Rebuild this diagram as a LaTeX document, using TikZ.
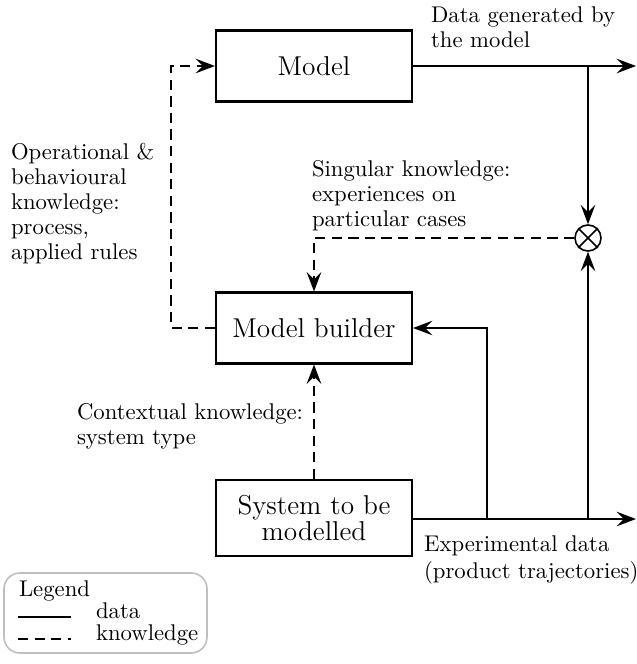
\documentclass[tikz,border=0pt]{standalone}
\usetikzlibrary{arrows.meta}
\begin{document}
\begin{tikzpicture}[x=0.44pt,y=-0.44pt,
  line width=0.9pt,
  >={Stealth[length=8.5pt,width=6.4pt,inset=3.2pt]},
  blk/.style={draw,minimum width=196*0.44pt,minimum height=71*0.44pt,inner sep=0pt,font=\fontsize{12}{11.5}\selectfont,align=center},
  lbl/.style={inner sep=0pt,align=left,font=\fontsize{10}{11}\selectfont},
  know/.style={dash pattern=on 4.5pt off 2.8pt},
  data/.style={}]
\useasboundingbox (0,0) rectangle (636,664);
\node[blk] (model) at (314,66) {Model};
\node[blk] (builder) at (314,328) {Model builder};
\node[blk,minimum height=76*0.44pt] (system) at (314,518) {System to be\\modelled};
\node[draw,circle,minimum size=26*0.44pt,inner sep=0pt,line width=0.7pt] (mix) at (588,238) {};
\draw[line width=0.7pt] (mix.north west) -- (mix.south east) (mix.north east) -- (mix.south west);
\coordinate (outA) at (636,66);
\coordinate (outB) at (636,519);
\coordinate (jA) at (588,66);
\coordinate (jB) at (588,519);
\coordinate (jC) at (487,519);
% data lines
\draw[->] (model.east) -- (outA);
\draw[->] (jA) -- (mix.north);
\draw[->] (system.east |- jB) -- (outB);
\draw[->] (jB) -- (mix.south);
\draw[->] (jC) |- (builder.east);
% knowledge lines
\draw[->,know] (mix.west) -| (builder.north);
\draw[->,know] (system.north) -- (builder.south);
\draw[->,know] (builder.west) -- (171,328) |- (model.west);
% labels
\node[lbl,anchor=north west] (l1) at (430,6) {Data generated by\\the model};
\node[lbl,anchor=north west] (l2) at (10,142) {Operational \&\\behavioural\\knowledge:\\process,\\applied rules};
\node[lbl,anchor=north west] (l3) at (311,159) {Singular knowledge:\\experiences on\\particular cases};
\node[lbl,anchor=north west] (l4) at (76,402) {Contextual knowledge:\\system type};
\node[lbl,anchor=north west,font=\fontsize{10}{11.6}\selectfont] (l5) at (423,535) {Experimental data\\(product trajectories)};
% legend
\draw[gray!50,line width=0.7pt,rounded corners=7pt] (4,573) rectangle (207,653);
\node[lbl,anchor=north west] (lg) at (18,580) {Legend};
\coordinate (s1) at (18,617); \coordinate (s2) at (71,617);
\coordinate (d1) at (18,639); \coordinate (d2) at (71,639);
\draw (s1) -- (s2);
\draw[know] (d1) -- (d2);
\node[lbl,anchor=base west] (ld) at (95,618) {data};
\node[lbl,anchor=base west] (lk) at (95,640) {knowledge};
\end{tikzpicture}
\end{document}
